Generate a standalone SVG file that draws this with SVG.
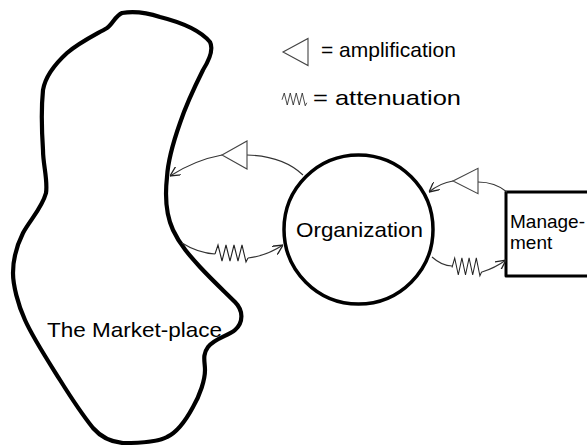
<svg xmlns="http://www.w3.org/2000/svg" width="587" height="445" viewBox="0 0 587 445">
<style>
.txt{font-family:"Liberation Sans",Arial,sans-serif;font-size:21px;fill:#000}
.mg{font-size:19px}
.heavy{fill:none;stroke:#000;stroke-linejoin:round;stroke-linecap:round}
.conn{fill:none;stroke:#333;stroke-width:1.1}
.amp{fill:#fff;stroke:#444;stroke-width:1.1;stroke-linejoin:miter}
.att{fill:none;stroke:#222;stroke-width:1.1;stroke-linejoin:miter}
</style>
<defs>
<marker id="arr" viewBox="0 0 10 10" refX="10" refY="5" markerWidth="10" markerHeight="10" markerUnits="userSpaceOnUse" orient="auto">
<path d="M0,0 L10,5 L0,10" fill="none" stroke="#222" stroke-width="1.3"/>
</marker>
<path id="tri" d="M0,0 L25,-14 L25,14 Z"/>
<path id="zz" d="M0,9 L3,0 L7,16 L11,0 L15,16 L19,0 L23,16 L27,0 L31,17 L33,13"/>
</defs>
<rect width="587" height="445" fill="#fff"/>

<g id="marketplace">
<path class="heavy" stroke-width="4.2" d="M122,13 C135,11 145,12 160,17 C180,22 200,30 210,42 C214,50 208,62 203,70 C196,84 186,105 180,123 C174,140 168,160 167,177 C165,195 166,215 173,230 C180,245 190,256 200,267 C212,280 225,292 235,302 C243,310 244,322 235,330 C228,336 215,338 208,347 C202,355 205,362 205,370 C205,380 200,395 193,407 C186,420 178,432 167,437 C158,442 135,443 123,443 C110,442 100,436 93,428 C85,418 70,396 60,380 C50,364 33,338 25,320 C18,305 13,285 13,273 C13,258 18,243 23,233 C30,220 42,208 46,193 C48,180 43,165 43,150 C42,135 41,110 43,90 C45,78 55,64 67,53 C80,42 95,35 107,28 C113,24 115,16 122,13 Z"/>
<text class="txt" x="47" y="337" textLength="175" lengthAdjust="spacingAndGlyphs">The Market-place</text>
</g>

<g id="organization">
<circle class="heavy" cx="358.5" cy="229.5" r="74.5" stroke-width="3.5"/>
<text class="txt" x="296" y="237" textLength="127" lengthAdjust="spacingAndGlyphs">Organization</text>
</g>

<g id="management">
<rect class="heavy" x="506" y="192" width="100" height="84" stroke-width="3" stroke-linejoin="miter"/>
<text class="txt mg" x="510" y="228">Manage-</text>
<text class="txt mg" x="510" y="249">ment</text>
</g>

<g id="legend">
<use href="#tri" class="amp" transform="translate(283,52) scale(1,0.97)"/>
<text class="txt" x="321" y="57">= amplification</text>
<use href="#zz" class="att" transform="translate(282,93) scale(0.75,0.75)"/>
<text class="txt" x="313" y="105" textLength="148" lengthAdjust="spacingAndGlyphs">= attenuation</text>
</g>

<g id="connectors">
<path class="conn" d="M303,175 Q283,156 247,155"/>
<use href="#tri" class="amp" transform="translate(222,155)"/>
<path class="conn" d="M222,155 Q195,160 170,176" marker-end="url(#arr)"/>

<path class="conn" d="M507,192 Q495,182 478,182"/>
<use href="#tri" class="amp" transform="translate(453,181) scale(1,0.9)"/>
<path class="conn" d="M453,181 Q440,183 429,192" marker-end="url(#arr)"/>

<path class="conn" d="M182,243 Q198,253 215,254"/>
<use href="#zz" class="att" transform="translate(215,245)"/>
<path class="conn" d="M248,258 Q266,256 283,245" marker-end="url(#arr)"/>

<path class="conn" d="M432,257 Q442,266 452,266"/>
<use href="#zz" class="att" transform="translate(452,258) scale(0.9,1.05)"/>
<path class="conn" d="M482,272 Q495,268 506,260" marker-end="url(#arr)"/>
</g>
</svg>
